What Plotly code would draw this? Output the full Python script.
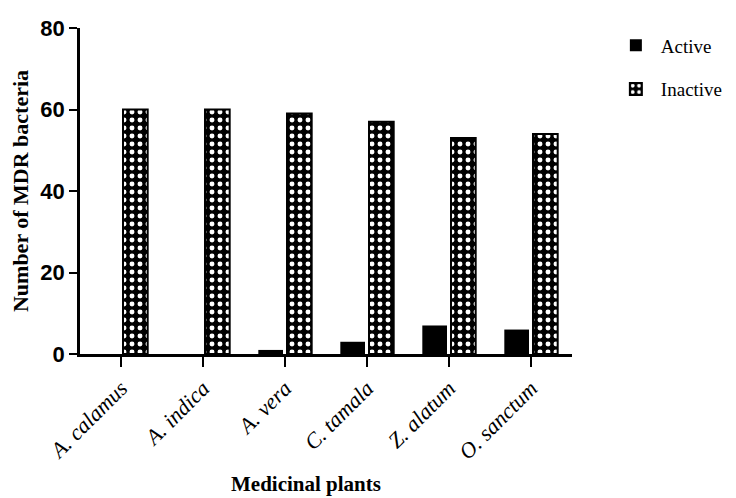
import plotly.graph_objects as go

plants = ["A. calamus", "A. indica", "A. vera", "C. tamala", "Z. alatum", "O. sanctum"]
active = [0, 0, 1, 3, 7, 6]
inactive = [60, 60, 59, 57, 53, 54]
y_ticks = [0, 20, 40, 60, 80]

SERIF = "Liberation Serif, Times New Roman, serif"

fig = go.Figure()
fig.add_trace(go.Bar(
    x=plants, y=active, name="Active", legendgroup="a",
    marker=dict(color="black", line=dict(color="black", width=0)),
))
fig.add_trace(go.Bar(
    x=plants, y=inactive, name="Inactive", legendgroup="b",
    marker=dict(
        color="black",
        line=dict(color="black", width=2),
        pattern=dict(shape=".", bgcolor="black", fgcolor="white", size=8, solidity=0.3, fillmode="replace"),
    ),
))

# page body has an 8px margin, so the figure is drawn 8px smaller
fig.update_layout(
    width=728, height=490,
    margin=dict(l=72, r=164, t=20, b=144, autoexpand=False),
    paper_bgcolor="white", plot_bgcolor="white",
    barmode="group", bargap=0.3, bargroupgap=0.14,
    showlegend=True,
    legend=dict(
        x=1.079, y=1.005, xanchor="left", yanchor="top",
        font=dict(family=SERIF, size=19, color="black"),
        tracegroupgap=16, itemwidth=40, bgcolor="rgba(0,0,0,0)",
    ),
    xaxis=dict(
        range=[-0.5, 5.5], automargin=False,
        showline=True, linecolor="black", linewidth=2.5,
        ticks="outside", ticklen=10, tickwidth=2, tickcolor="black",
        tickangle=-45,
        tickfont=dict(family=SERIF, size=22, color="black", style="italic"),
        showgrid=False, zeroline=False,
    ),
    yaxis=dict(
        range=[0, 80], tickvals=y_ticks, automargin=False,
        showline=True, linecolor="black", linewidth=2.5,
        ticks="outside", ticklen=8, tickwidth=2, tickcolor="black",
        tickfont=dict(family="Liberation Sans, Arial, sans-serif", size=22, color="black", weight="bold"),
        title=dict(text="Number of MDR bacteria",
                   font=dict(family=SERIF, size=22, color="black", weight="bold"),
                   standoff=8),
        showgrid=False, zeroline=False,
    ),
)

fig.add_annotation(
    text="<b>Medicinal plants</b>", xref="paper", yref="paper",
    x=(306 - 80) / 492, y=-(484 - 354) / 326, xanchor="center", yanchor="middle",
    showarrow=False,
    font=dict(family=SERIF, size=21, color="black"),
)

fig.write_html("out.html")
